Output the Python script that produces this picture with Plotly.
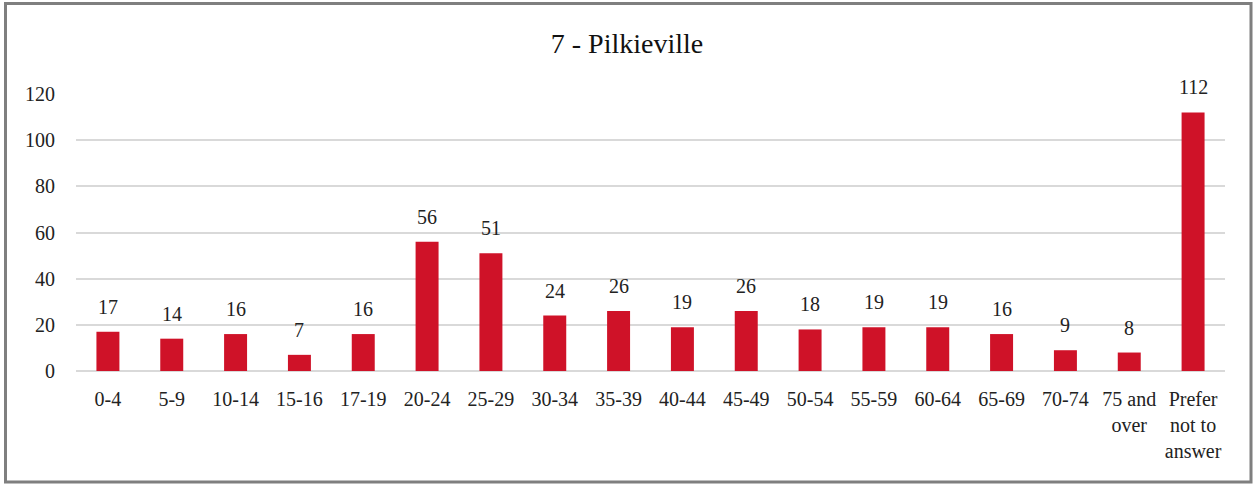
import plotly.graph_objects as go

categories = ["0-4", "5-9", "10-14", "15-16", "17-19", "20-24", "25-29", "30-34",
              "35-39", "40-44", "45-49", "50-54", "55-59", "60-64", "65-69", "70-74",
              "75 and<br>over", "Prefer<br>not to<br>answer"]
values = [17, 14, 16, 7, 16, 56, 51, 24, 26, 19, 26, 18, 19, 19, 16, 9, 8, 112]
y_ticks = [0, 20, 40, 60, 80, 100, 120]
title = "7 - Pilkieville"

FONT = "Liberation Serif"
W, H = 1254, 484
L, R, T, B = 76, 29, 94, 113
pw, ph = W - L - R, H - T - B

fig = go.Figure()
fig.add_trace(go.Bar(
    x=categories, y=values, width=0.36,
    marker=dict(color="#CF1228", line=dict(width=0)),
    hoverinfo="x+y",
))

for c, v in zip(categories, values):
    fig.add_annotation(x=c, y=v, text=str(v), showarrow=False, yshift=25,
                       yanchor="middle", font=dict(family=FONT, size=20, color="#222222"))

def px_to_paper_x(px):
    return (px - L) / pw

def px_to_paper_y(py):
    return (H - B - py) / ph

fig.add_shape(type="rect", xref="paper", yref="paper",
              x0=px_to_paper_x(5.5), x1=px_to_paper_x(1251),
              y0=px_to_paper_y(482), y1=px_to_paper_y(3.5),
              line=dict(color="#7F7F7F", width=3), fillcolor="rgba(0,0,0,0)", layer="above")

fig.update_layout(
    width=W, height=H,
    margin=dict(l=L, r=R, t=T, b=B, autoexpand=False),
    paper_bgcolor="white", plot_bgcolor="white",
    title=dict(text=title, x=0.5, xanchor="center", y=1 - 43 / H, yanchor="middle",
               font=dict(family=FONT, size=28, color="#111111")),
    showlegend=False,
    font=dict(family=FONT, size=20, color="#222222"),
    xaxis=dict(type="category", showgrid=False, showline=False, ticks="",
               tickangle=0, ticklabelstandoff=14,
               tickfont=dict(family=FONT, size=20, color="#222222")),
    yaxis=dict(range=[0, 120], tickvals=y_ticks, showgrid=True, gridcolor="#D9D9D9",
               gridwidth=1.5, zeroline=True, zerolinecolor="#D9D9D9", zerolinewidth=1.5,
               showline=False, ticks="", ticklabelstandoff=20,
               tickfont=dict(family=FONT, size=20, color="#222222")),
)

fig.write_html("out.html", config={"displayModeBar": False},
               post_script="document.body.style.margin='0';document.body.style.overflow='hidden';")
